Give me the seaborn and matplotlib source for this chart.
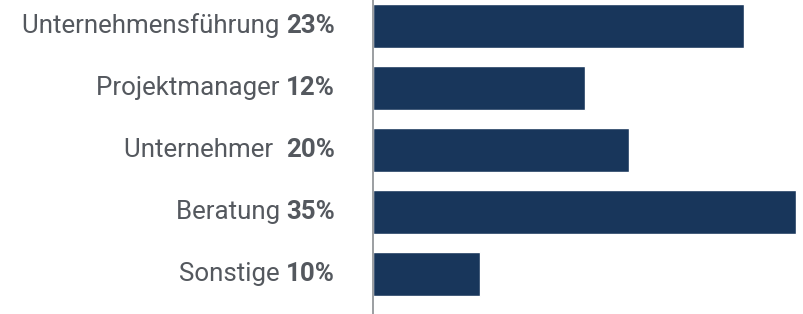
import matplotlib
matplotlib.use("Agg")
import matplotlib.pyplot as plt
import seaborn as sns
import pandas as pd

# Daten
kategorien = ["Unternehmensführung", "Projektmanager", "Unternehmer ", "Beratung", "Sonstige"]
prozent_labels = ["23%", "12%", "20%", "35%", "10%"]
# Balkenlängen (aus dem Bild abgelesen, nicht proportional zu den Labels)
balken = [30.7, 17.6, 21.2, 35.0, 8.9]

sns.set_theme(style="white")
plt.rcParams['font.family'] = ['Roboto', 'DejaVu Sans']

df = pd.DataFrame({"Kategorie": kategorien, "Wert": balken})

fig = plt.figure(figsize=(8.04, 3.14), dpi=100)
ax = fig.add_axes([373 / 804, 0, 431 / 804, 1])

sns.barplot(data=df, x="Wert", y="Kategorie", orient="h", color="#18365b",
            saturation=1, width=0.71, ax=ax)

ax.set_xlim(0, 35.7)
ax.set_ylim(4.645, -0.42)
ax.set_xlabel("")
ax.set_ylabel("")
ax.set_xticks([])
ax.set_yticks([])

for s in ["top", "right", "bottom"]:
    ax.spines[s].set_visible(False)
ax.spines["left"].set_color("#8a8d91")
ax.spines["left"].set_linewidth(1.2)

textfarbe = "#54585e"
fs = 18.6
for i, (name, pct) in enumerate(zip(kategorien, prozent_labels)):
    t = ax.annotate(pct, xy=(0, i), xycoords=("axes fraction", "data"),
                    xytext=(-38, 0), textcoords="offset pixels",
                    ha="right", va="center", fontsize=fs, fontweight="bold",
                    color=textfarbe)
    ax.annotate(name + " ", xy=(0, 0), xycoords=t, ha="right", va="bottom",
                fontsize=fs, color=textfarbe)

fig.savefig("out.png", dpi=100)
